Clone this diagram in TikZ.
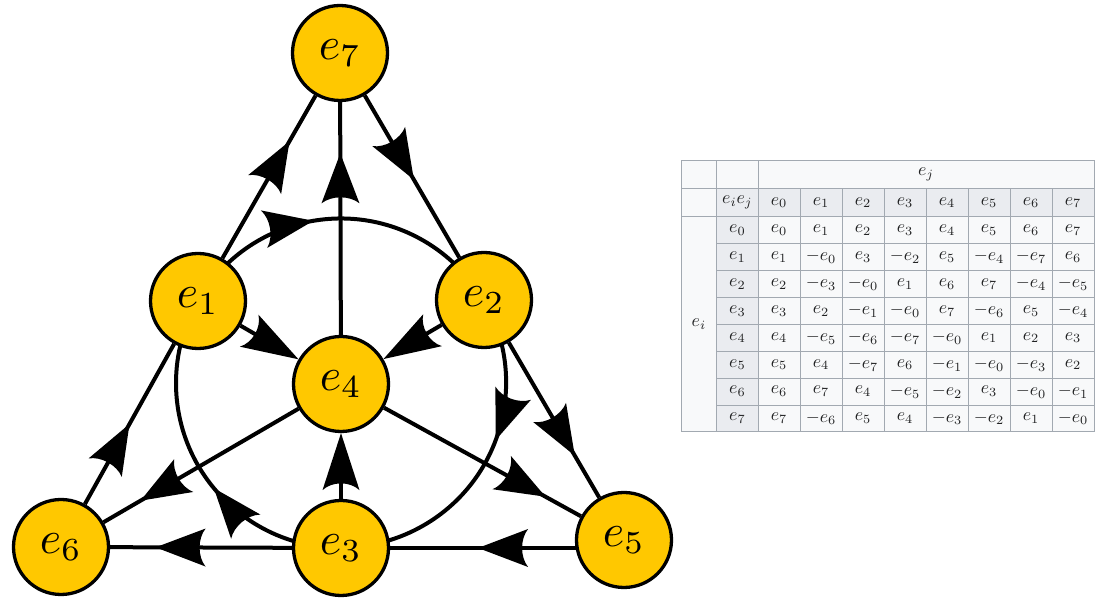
\documentclass[tikz,border=0pt]{standalone}
\usetikzlibrary{decorations.markings,backgrounds}
\definecolor{nodefill}{RGB}{255,200,0}
\definecolor{tabline}{HTML}{A2A9B1}
\definecolor{tabheadc}{HTML}{EAECF0}
\definecolor{tabcellc}{HTML}{F8F9FA}
\definecolor{tabtext}{HTML}{202122}
\newcommand{\fanolab}[1]{\scalebox{4.6}{$#1$}}
\newcommand{\tablab}[1]{\scalebox{1.8}{$#1$}}
\tikzset{
  unitnode/.style={circle, draw=black, line width=3.3pt, fill=nodefill,
    minimum size=95pt, inner sep=0pt},
  edge/.style={line width=4pt, draw=black},
  midarrow/.style={postaction={decorate}, decoration={markings,
    mark=at position #1 with {\fill[black] (0pt,0pt) -- (-50pt,19pt)
      .. controls (-42pt,9pt) and (-42pt,-9pt) .. (-50pt,-19pt) -- cycle;}}},
  endarrow/.style={shorten >=16pt, postaction={decorate, shorten >=0pt},
    decoration={markings,
    mark=at position 0.9999 with {\fill[black] (0pt,0pt) -- (-57pt,18.5pt)
      .. controls (-48pt,9pt) and (-48pt,-9pt) .. (-57pt,-18.5pt) -- cycle;}}},
  tabcell/.style={draw=tabline, line width=0.8pt, fill=tabcellc,
    minimum width=42pt, minimum height=26.89pt, inner sep=0pt,
    text=tabtext},
  tabhead/.style={tabcell, fill=tabheadc}
}
\begin{document}
\begin{tikzpicture}[x=1pt,y=1pt]
\useasboundingbox (0,0) rectangle (1112,604);
% ---- Fano plane nodes
\node[unitnode] (e7) at (340,551) {\fanolab{e_7}};
\node[unitnode] (e1) at (198,303) {\fanolab{e_1}};
\node[unitnode] (e2) at (484,304) {\fanolab{e_2}};
\node[unitnode] (e4) at (341,220) {\fanolab{e_4}};
\node[unitnode] (e6) at (61,57)   {\fanolab{e_6}};
\node[unitnode] (e3) at (341,56)  {\fanolab{e_3}};
\node[unitnode] (e5) at (624,64)  {\fanolab{e_5}};
% ---- straight lines
\draw[edge, midarrow=0.50]  (e6) -- (e1);
\draw[edge, midarrow=0.72]  (e1) -- (e7);
\draw[edge, midarrow=0.52]  (e7) -- (e2);
\draw[edge, midarrow=0.73]  (e2) -- (e5);
\draw[edge, midarrow=0.75]  (e3) -- (e6);
\draw[edge, midarrow=0.78]  (e4) -- (e7);
\draw[edge, midarrow=0.81]  (e4) -- (e6);
\draw[edge, midarrow=0.82]  (e4) -- (e5);
\draw[edge, endarrow] (e1) -- (e4);
\draw[edge, endarrow] (e2) -- (e4);
\draw[edge, endarrow] (e3) -- (e4);
% ---- circle and bottom line (behind the nodes)
\begin{scope}[on background layer]
\draw[edge, midarrow=0.624] (e5 |- e3) -- (e3);
\draw[edge, midarrow=0.42] (e1.center) arc[start angle=150, end angle=30, radius=165pt];
\draw[edge, midarrow=0.42] (e2.center) arc[start angle=30, end angle=-90, radius=165pt];
\draw[edge, midarrow=0.42] (e3.center) arc[start angle=270, end angle=150, radius=165pt];
\end{scope}
% ---- multiplication table
\node[tabcell, minimum width=35.7pt, minimum height=27.6pt] (tc1) at (698.85,429.5) {};
\node[tabcell, minimum width=41.3pt, minimum height=27.6pt] (tc2) at (737.35,429.5) {};
\node[tabcell, minimum width=336pt, minimum height=27.6pt] (ej) at (926,429.5) {\tablab{e_j}};
\node[tabcell, minimum width=35.7pt, minimum height=28.4pt] (tc3) at (698.85,401.5) {};
\node[tabhead, minimum width=41.3pt, minimum height=28.4pt] (eiej) at (737.35,401.5) {\tablab{e_ie_j}};
\foreach \j in {0,...,7}
  \node[tabhead, minimum height=28.4pt] (h-\j) at ({779+42*\j},401.5) {\tablab{e_{\j}}};
\node[tabcell, minimum width=35.7pt, minimum height=215.1pt] (ei) at (698.85,279.75) {\tablab{e_i}};
\foreach \i in {0,...,7}
  \node[tabhead, minimum width=41.3pt] (r-\i) at (737.35,{373.86-26.89*\i}) {\tablab{e_{\i}}};
\foreach \row [count=\i from 0] in {
  {e_0,e_1,e_2,e_3,e_4,e_5,e_6,e_7},
  {e_1,-e_0,e_3,-e_2,e_5,-e_4,-e_7,e_6},
  {e_2,-e_3,-e_0,e_1,e_6,e_7,-e_4,-e_5},
  {e_3,e_2,-e_1,-e_0,e_7,-e_6,e_5,-e_4},
  {e_4,-e_5,-e_6,-e_7,-e_0,e_1,e_2,e_3},
  {e_5,e_4,-e_7,e_6,-e_1,-e_0,-e_3,e_2},
  {e_6,e_7,e_4,-e_5,-e_2,e_3,-e_0,-e_1},
  {e_7,-e_6,e_5,e_4,-e_3,-e_2,e_1,-e_0}} {
  \foreach \v [count=\j from 0] in \row
    \node[tabcell] (c-\i-\j) at ({779+42*\j},{373.86-26.89*\i}) {\tablab{\v}};
}
\end{tikzpicture}
\end{document}
